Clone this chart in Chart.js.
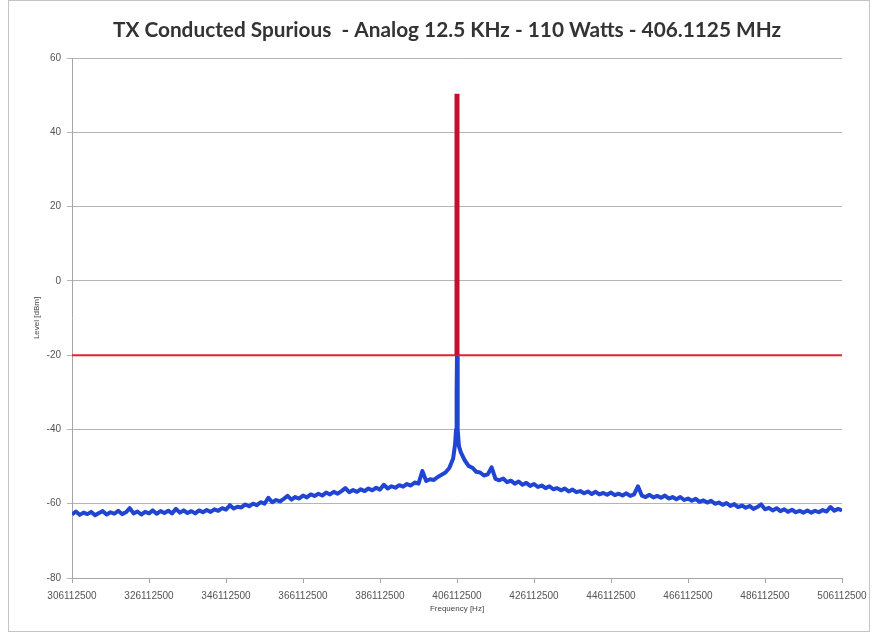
<!DOCTYPE html>
<html>
<head>
<meta charset="utf-8">
<title>TX Conducted Spurious</title>
<script src="https://cdn.jsdelivr.net/npm/chart.js@4.4.1/dist/chart.umd.min.js"></script>
<style>
  html, body { margin: 0; padding: 0; background: #fff; }
  #wrap { position: relative; width: 877px; height: 636px; }
</style>
</head>
<body>
<div id="wrap"><canvas id="spur-chart" width="877" height="636"></canvas></div>
<script>
const titleText = 'TX Conducted Spurious  - Analog 12.5 KHz - 110 Watts - 406.1125 MHz';

// x axis ticks (Hz) and y axis range (dBm)
const freqTicks = [306112500, 326112500, 346112500, 366112500, 386112500, 406112500,
  426112500, 446112500, 466112500, 486112500, 506112500];
const levelTicks = [-80, -60, -40, -20, 0, 20, 40, 60];

// measured trace, 1 MHz steps below the carrier (306.1125 .. 405.1125 MHz)
const leftStart = 306112500;
const stepHz = 1000000;
const leftLevels = [
  -62.9, -62.1, -63.0, -62.4, -62.8, -62.2, -63.1, -62.5, -62.0, -62.9,
  -62.3, -62.7, -61.9, -62.8, -62.3, -61.2, -62.6, -62.1, -62.9, -62.2,
  -62.6, -61.8, -62.7, -62.0, -62.5, -61.9, -62.6, -61.4, -62.4, -61.8,
  -62.5, -62.0, -62.6, -61.8, -62.3, -61.7, -62.2, -61.5, -61.9, -61.2,
  -61.6, -60.4, -61.3, -60.8, -61.0, -60.2, -60.7, -60.0, -60.4, -59.6,
  -60.0, -58.4, -59.6, -59.0, -59.4, -58.7, -57.9, -58.9, -58.2, -58.6,
  -57.8, -58.3, -57.5, -57.9, -57.3, -57.8, -57.0, -57.5, -56.8, -57.3,
  -56.6, -55.8, -56.9, -56.3, -56.8, -56.1, -56.6, -55.9, -56.4, -55.7,
  -56.2, -54.9, -55.9, -55.3, -55.7, -55.0, -55.4, -54.7, -55.1, -54.3,
  -54.6, -51.2, -53.9, -53.4, -53.6, -52.8, -52.2, -51.6, -50.4, -47.8
];

// fine points around the carrier; the trace is shown up to the limit line
const carrierFreqs = [405612500, 405862500, 406012500, 406112500, 406212500, 406362500, 406612500];
const carrierLevels = [-44.0, -40.0, -30.0, -20.0, -30.0, -40.0, -44.5];

// measured trace, 1 MHz steps above the carrier (407.1125 .. 506.1125 MHz)
const rightStart = 407112500;
const rightLevels = [
  -46.2, -48.3, -49.8, -50.3, -51.4, -51.6, -52.4, -52.1, -50.2, -53.3,
  -53.7, -53.2, -54.2, -53.8, -54.6, -54.0, -54.9, -54.4, -55.2, -54.7,
  -55.5, -55.1, -55.8, -55.3, -56.1, -55.8, -56.4, -55.9, -56.7, -56.2,
  -56.9, -56.6, -57.2, -56.7, -57.4, -56.8, -57.5, -57.1, -57.6, -57.0,
  -57.7, -57.3, -57.8, -57.2, -57.9, -57.5, -55.3, -57.8, -58.2, -57.6,
  -58.3, -57.9, -58.4, -57.8, -58.6, -58.2, -58.8, -58.2, -59.0, -58.6,
  -59.2, -58.7, -59.5, -59.1, -59.7, -59.2, -60.0, -59.7, -60.3, -59.8,
  -60.6, -60.1, -60.9, -60.5, -61.1, -60.6, -61.4, -60.9, -60.2, -61.5,
  -61.1, -61.8, -61.2, -62.0, -61.5, -62.2, -61.6, -62.3, -61.9, -62.4,
  -61.8, -62.4, -61.9, -62.3, -61.7, -62.1, -60.9, -61.9, -61.4, -61.8
];

// limit line and carrier marker
const limitLevel = -20;
const carrierFreq = 406112500;
const carrierPower = 50.4;

const trace = [];
leftLevels.forEach((v, i) => trace.push({ x: leftStart + i * stepHz, y: v }));
carrierFreqs.forEach((f, i) => trace.push({ x: f, y: carrierLevels[i] }));
rightLevels.forEach((v, i) => trace.push({ x: rightStart + i * stepHz, y: v }));

const limitLine = [
  { x: freqTicks[0], y: limitLevel },
  { x: freqTicks[freqTicks.length - 1], y: limitLevel }
];
const carrierLine = [
  { x: carrierFreq, y: limitLevel },
  { x: carrierFreq, y: carrierPower }
];

// white background, thin frame and the chart heading
const frame = {
  id: 'frame',
  beforeDraw(chart) {
    const ctx = chart.ctx;
    ctx.save();
    ctx.fillStyle = '#fff';
    ctx.fillRect(0, 0, chart.width, chart.height);
    ctx.strokeStyle = '#c4c4c4';
    ctx.lineWidth = 1;
    ctx.strokeRect(8.5, 0.5, 861, 631);
    ctx.restore();
  },
  afterDraw(chart) {
    const ctx = chart.ctx;
    ctx.save();
    ctx.fillStyle = '#333';
    ctx.font = 'bold 20.8px Lato';
    ctx.textAlign = 'center';
    ctx.textBaseline = 'middle';
    ctx.fillText(titleText, 447, 30);
    ctx.restore();
  }
};

const tickFont = { family: 'Liberation Sans', size: 10 };
const axisTitleFont = { family: 'Liberation Sans', size: 8 };

new Chart(document.getElementById('spur-chart'), {
  type: 'line',
  data: {
    datasets: [
      {
        label: 'Carrier',
        data: carrierLine,
        borderColor: '#c2102e',
        borderWidth: 5,
        borderCapStyle: 'butt',
        pointRadius: 0,
        order: 0
      },
      {
        label: 'Limit',
        data: limitLine,
        borderColor: '#e2252b',
        borderWidth: 2,
        pointRadius: 0,
        order: 1
      },
      {
        label: 'Level',
        data: trace,
        borderColor: '#1f45d2',
        borderWidth: 4,
        borderJoinStyle: 'round',
        pointRadius: 0,
        tension: 0,
        order: 2
      }
    ]
  },
  options: {
    responsive: false,
    animation: false,
    layout: { padding: { top: 58, right: 35, bottom: 16, left: 0 } },
    plugins: {
      legend: { display: false },
      tooltip: { enabled: false },
      title: { display: false }
    },
    scales: {
      x: {
        type: 'linear',
        min: freqTicks[0],
        max: freqTicks[freqTicks.length - 1],
        afterBuildTicks: scale => { scale.ticks = freqTicks.map(v => ({ value: v })); },
        afterFit: scale => { scale.height = 42; },
        ticks: {
          color: '#555',
          font: tickFont,
          padding: 7,
          maxRotation: 0,
          autoSkip: false,
          callback: v => String(v)
        },
        grid: { drawOnChartArea: false, tickLength: 5, color: '#a6a6a6' },
        border: { color: '#a6a6a6' },
        title: {
          display: true,
          text: 'Frequency [Hz]',
          color: '#444',
          font: axisTitleFont,
          padding: { top: 0, bottom: 6 }
        }
      },
      y: {
        min: levelTicks[0],
        max: levelTicks[levelTicks.length - 1],
        afterBuildTicks: scale => { scale.ticks = levelTicks.map(v => ({ value: v })); },
        afterFit: scale => { scale.width = 72; },
        ticks: { color: '#555', font: tickFont, padding: 6 },
        grid: { color: '#b4b4b4', tickLength: 5 },
        border: { color: '#a6a6a6' },
        title: {
          display: true,
          text: 'Level [dBm]',
          color: '#444',
          font: axisTitleFont,
          padding: { top: 32, bottom: 0 }
        }
      }
    }
  },
  plugins: [frame]
});
</script>
</body>
</html>
